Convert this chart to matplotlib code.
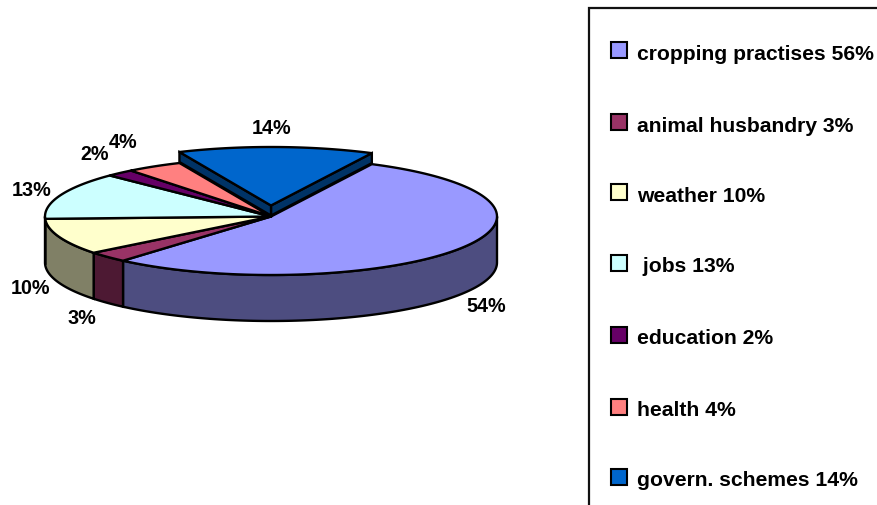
"""
Pie chart in tilted 3D style: farmers' concerns by topic.
"""

import numpy as np
import matplotlib
matplotlib.use("Agg")
import matplotlib.pyplot as plt
from matplotlib.patches import Polygon, Rectangle

plt.rcParams['font.family'] = ['Liberation Sans', 'DejaVu Sans']

# Data
slice_values = [54, 3, 10, 13, 2, 4, 14]
legend_labels = ["cropping practises 56%", "animal husbandry 3%", "weather 10%",
                 " jobs 13%", "education 2%", "health 4%", "govern. schemes 14%"]
top_colors = ["#9999FF", "#993366", "#FFFFCC", "#CCFFFF", "#660066", "#FF8080", "#0066CC"]
side_colors = ["#4D4D80", "#4D1933", "#808066", "#668080", "#330033", "#804040", "#003366"]

# Pie geometry, in pixels
CX, CY = 271, 216.5
RX, RY = 226, 58.5
DEPTH = 46
START_ANGLE = 63.5
EXPLODE_LIFT = 11
EXPLODE_DEPTH = 10
EXPLODED = 6  # index of the pulled out slice

LABEL_POS = [(486, 307), (82, 319), (30, 289), (32, 190), (95, 155), (123, 142), (272, 128)]
LEGEND_Y = [50, 122, 192, 263, 335, 407, 477]
LABEL_SIZE = 14.2
LEGEND_SIZE = 15.2
EDGE = 1.7


def ellipse_points(t1, t2, cy=CY):
    """Points on the rim between angles t1 and t2 (degrees)."""
    t = np.radians(np.linspace(t1, t2, 120))
    return np.column_stack([CX + RX * np.cos(t), cy - RY * np.sin(t)])


def draw_side(ax, t1, t2, color):
    """Outer wall of a slice, only its part on the near half of the rim."""
    t1, t2 = max(t1, -180), min(t2, 0)
    if t1 >= t2:
        return
    rim = ellipse_points(t1, t2)
    low = rim + [0, DEPTH]
    ax.add_patch(Polygon(np.vstack([rim, low[::-1]]), closed=True, facecolor=color,
                         edgecolor="black", linewidth=EDGE, zorder=2))


def draw_top(ax, t1, t2, color, cy=CY, zorder=3):
    rim = ellipse_points(t1, t2, cy)
    pts = np.vstack([[CX, cy], rim])
    ax.add_patch(Polygon(pts, closed=True, facecolor=color, edgecolor="black",
                         linewidth=EDGE, joinstyle="round", zorder=zorder))


def draw_exploded(ax, t1, t2, top_color, side_color):
    """Slice pulled away from the pie, with its two cut faces showing."""
    cy = CY - EXPLODE_LIFT
    rim = ellipse_points(t1, t2, cy)
    apex = np.array([CX, cy])
    shift = np.array([0, EXPLODE_DEPTH])
    for corner in (rim[0], rim[-1]):
        face = [corner, apex, apex + shift, corner + shift]
        ax.add_patch(Polygon(face, closed=True, facecolor=side_color, edgecolor="black",
                             linewidth=EDGE, zorder=4))
    draw_top(ax, t1, t2, top_color, cy=cy, zorder=5)


fig = plt.figure(figsize=(8.77, 5.05), dpi=100)
ax = fig.add_axes([0, 0, 1, 1])
ax.set_xlim(0, 877)
ax.set_ylim(505, 0)
ax.axis("off")

# Slices run clockwise from the start angle
sweeps = np.array(slice_values) / sum(slice_values) * 360
ends = START_ANGLE - np.cumsum(sweeps)
starts = ends + sweeps

for i in range(len(slice_values)):
    if i == EXPLODED:
        continue
    draw_side(ax, ends[i], starts[i], side_colors[i])
for i in range(len(slice_values)):
    if i == EXPLODED:
        continue
    draw_top(ax, ends[i], starts[i], top_colors[i])
draw_exploded(ax, ends[EXPLODED], starts[EXPLODED], top_colors[EXPLODED], side_colors[EXPLODED])

# Percentage labels
for val, (x, y) in zip(slice_values, LABEL_POS):
    ax.text(x, y, f"{val}%", ha="center", va="center", fontsize=LABEL_SIZE,
            fontweight="bold", color="black", zorder=6)

# Legend frame runs off the right and bottom of the figure
ax.add_patch(Rectangle((589, 8), 320, 540, facecolor="white", edgecolor="#111111",
                       linewidth=1.6, zorder=1))
for label, color, y in zip(legend_labels, top_colors, LEGEND_Y):
    ax.add_patch(Rectangle((611, y - 8), 16, 16, facecolor=color, edgecolor="black",
                           linewidth=1.5, zorder=2))
    ax.text(637, y + 4, label, ha="left", va="center", fontsize=LEGEND_SIZE,
            fontweight="bold", color="black", zorder=3)

fig.savefig("out.png", dpi=100)
